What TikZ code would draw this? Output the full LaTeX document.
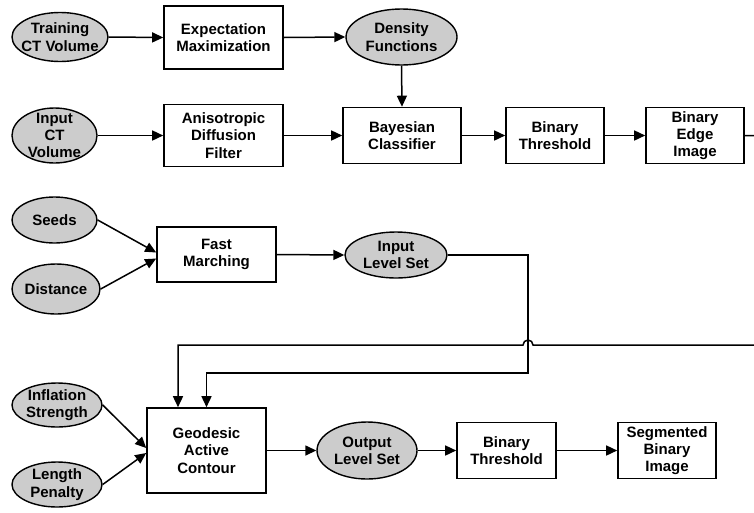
\documentclass[tikz,border=0pt]{standalone}
\usepackage{fontspec}
\setmainfont{Liberation Sans}
\usetikzlibrary{shapes.geometric,arrows.meta,calc}
\definecolor{ellgray}{RGB}{204,204,204}
\begin{document}
\begin{tikzpicture}[x=1pt,y=-1pt,
  font=\fontsize{15}{17.3}\selectfont\bfseries,
  every label/.style={align=center, inner sep=0pt},
  ell/.style 2 args={ellipse, draw=black, line width=1.4pt, fill=ellgray, inner sep=0pt, minimum width=#1, minimum height=#2},
  box/.style 2 args={rectangle, draw=black, line width=1.6pt, fill=white, align=center, inner sep=0pt, minimum width=#1, minimum height=#2},
  conn/.style={line width=1.5pt, -{Triangle[length=11pt,width=10pt]}},
  plain/.style={line width=1.5pt}]
\useasboundingbox (0,0) rectangle (754,512);
\clip (0,0) rectangle (754,512);

% ellipses
\node[ell={96pt}{49pt}, label={center:Training\\CT Volume}] (tcv) at (60,37) {};
\node[ell={111pt}{56pt}, label={center:Density\\Functions}] (df) at (401.5,37) {};
\node[ell={85pt}{55pt}, label={center:Input\\CT\\Volume}] (icv) at (54.5,135.5) {};
\node[ell={85pt}{46pt}, label={center:Seeds}] (seeds) at (54.5,220) {};
\node[ell={88pt}{50pt}, label={center:Distance}] (dist) at (56,289) {};
\node[ell={102pt}{46pt}, label={center:Input\\Level Set}] (ils) at (396,255) {};
\node[ell={90pt}{44pt}, label={center:Inflation\\Strength}] (infl) at (57,405) {};
\node[ell={90pt}{45pt}, label={center:Length\\Penalty}] (lp) at (57,484.5) {};
\node[ell={100pt}{57pt}, label={center:Output\\Level Set}] (ols) at (367,450.5) {};

% boxes
\node[box={119pt}{63pt}] (em) at (223.5,37.5) {Expectation\\Maximization};
\node[box={119pt}{62pt}] (adf) at (223.5,135.5) {Anisotropic\\Diffusion\\Filter};
\node[box={118pt}{56pt}] (bc) at (402,135.5) {Bayesian\\Classifier};
\node[box={98pt}{56pt}] (bt1) at (555,135.5) {Binary\\Threshold};
\node[box={98pt}{56pt}] (bei) at (695,135.5) {Binary\\Edge\\Image};
\node[box={119pt}{55pt}] (fm) at (216.5,254.5) {Fast\\Marching};
\node[box={119pt}{85pt}] (gac) at (206.5,450.5) {Geodesic\\Active\\Contour};
\node[box={99pt}{56pt}] (bt2) at (506.5,450.5) {Binary\\Threshold};
\node[box={98pt}{56pt}] (sbi) at (667,450.5) {Segmented\\Binary\\Image};

% routing coordinates
\coordinate (rEdge) at (760,135.5);
\coordinate (rDown) at (760,345);
\coordinate (hopR) at (533,345);
\coordinate (hopEnd) at (178,345);
\coordinate (ilsR) at (528,255);
\coordinate (ilsD) at (528,373);

% connectors
\draw[conn] (tcv.east) -- (em.west);
\draw[conn] (em.east) -- (df.west);
\draw[conn] (df.south) -- (bc.north);
\draw[conn] (icv.east) -- (adf.west);
\draw[conn] (adf.east) -- (bc.west);
\draw[conn] (bc.east) -- (bt1.west);
\draw[conn] (bt1.east) -- (bei.west);
\draw[conn] (seeds.east) -- ($(fm.west)+(0,-2)$);
\draw[conn] (dist.east) -- ($(fm.west)+(0,4)$);
\draw[conn] (fm.east) -- (ils.west);
\draw[conn] (infl.east) -- ($(gac.west)+(0,-2.5)$);
\draw[conn] (lp.east) -- ($(gac.west)+(0,2.5)$);
\draw[conn] (gac.east) -- (ols.west);
\draw[conn] (ols.east) -- (bt2.west);
\draw[conn] (bt2.east) -- (sbi.west);

\draw[conn] (bei.east) -- (rEdge) -- (rDown) -- (hopR)
  arc[start angle=0, end angle=-180, radius=5] -- (hopEnd) -- (hopEnd |- gac.north);
\draw[conn] (ils.east) -- (ilsR) -- (ilsD) -| (gac.north);
\end{tikzpicture}
\end{document}
